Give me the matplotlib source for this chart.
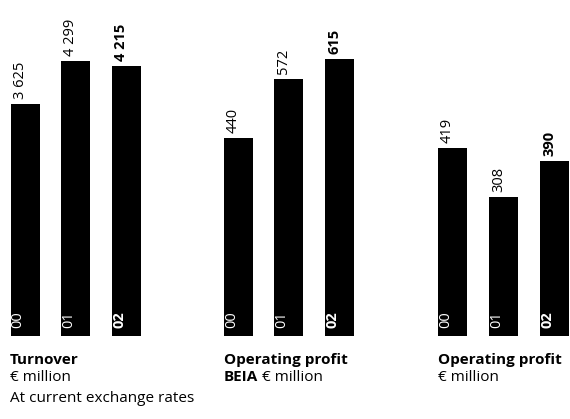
import numpy as np
import matplotlib
matplotlib.use("Agg")
from matplotlib import pyplot as plt
from matplotlib import transforms

plt.rcParams["font.family"] = ["Open Sans", "DejaVu Sans"]

# three small panels, one per key figure
years = ["00", "01", "02"]
turnover = [3625, 4299, 4215]
op_profit_beia = [440, 572, 615]
op_profit = [419, 308, 390]

value_labels = [
    ["3 625", "4 299", "4 215"],
    ["440", "572", "615"],
    ["419", "308", "390"],
]
titles = ["Turnover", "Operating profit", "Operating profit"]
subtitles = [("", "€ million"), ("BEIA", " € million"), ("", "€ million")]

W, H = 570, 419
fig = plt.figure(figsize=(W / 100, H / 100), dpi=100)

# panel geometry in pixels: (left, width, top of axis range in data units)
panels = [
    (turnover, 0.0, 151.5, 5250),
    (op_profit_beia, 213.0, 151.5, 747),
    (op_profit, 427.0, 153.0, 747),
]
bottom_px = 83
bar_w = 0.575
cap_size = 11

for k, (vals, left, width, ymax) in enumerate(panels):
    ax = fig.add_axes([left / W, bottom_px / H, width / W, (H - bottom_px) / H])
    x = np.arange(len(vals))
    ax.bar(x, vals, width=bar_w, color="black")
    ax.set_xlim(-0.5, 2.5)
    ax.set_ylim(0, ymax)
    ax.axis("off")

    for i, v in enumerate(vals):
        weight = "bold" if i == 2 else "normal"
        off = transforms.offset_copy(ax.transData, fig=fig, x=-5, y=5, units="dots")
        ax.text(x[i], v, value_labels[k][i], transform=off, rotation=90,
                ha="center", va="bottom", fontsize=10.5, fontweight=weight, color="black")
        off2 = transforms.offset_copy(ax.transData, fig=fig, x=-7, y=8, units="dots")
        ax.text(x[i], 0, years[i], transform=off2, rotation=90,
                ha="center", va="bottom", fontsize=10.5, fontweight=weight, color="white")

    # captions under each panel
    tx = (left + 10 if k == 0 else left + 11) / W
    fig.text(tx, 1 - 360 / H, titles[k], fontsize=cap_size, fontweight="bold", va="center", ha="left")
    bold_part, rest = subtitles[k]
    if bold_part:
        t = fig.text(tx, 1 - 377 / H, bold_part, fontsize=cap_size, fontweight="bold", va="center", ha="left")
        fig.canvas.draw()
        bb = t.get_window_extent()
        fig.text(bb.x1 / W, 1 - 377 / H, rest, fontsize=cap_size, va="center", ha="left")
    else:
        fig.text(tx, 1 - 377 / H, rest, fontsize=cap_size, va="center", ha="left")

fig.text(10 / W, 1 - 398 / H, "At current exchange rates", fontsize=cap_size, va="center", ha="left")

fig.savefig("out.png", dpi=100, facecolor="white")
